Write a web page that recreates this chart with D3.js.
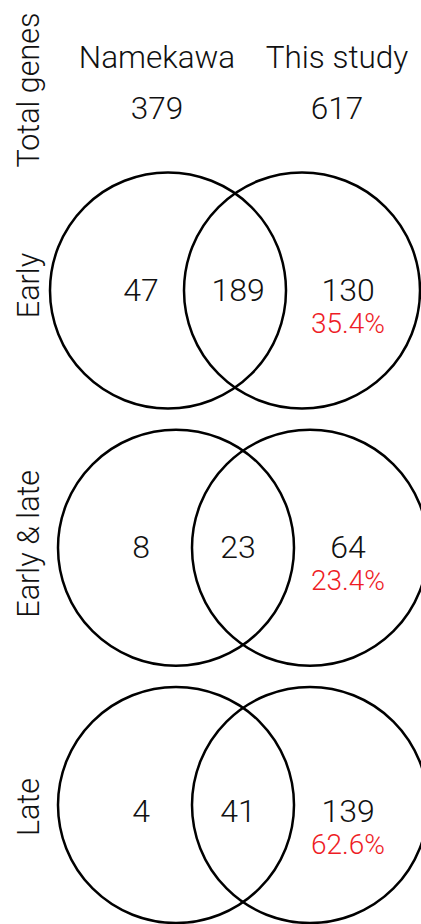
<!DOCTYPE html>
<html>
<head>
<meta charset="utf-8">
<script src="https://cdn.jsdelivr.net/npm/d3@7"></script>
<style>
  html, body { margin: 0; padding: 0; background: #fff; }
  svg { display: block; }
  text { font-family: Roboto, "Liberation Sans", sans-serif; font-weight: 300; fill: #111; }
</style>
</head>
<body>
<div id="chart"></div>
<script>
// Data
const datasets = ['Namekawa', 'This study'];
const totals = [379, 617];
const categories = ['Early', 'Early & late', 'Late'];
const onlyNamekawa = [47, 8, 4];
const shared = [189, 23, 41];
const onlyThisStudy = [130, 64, 139];
const newPercent = ['35.4%', '23.4%', '62.6%'];

const width = 421, height = 924;
const r = 118;

const svg = d3.select('#chart').append('svg')
	.attr('width', width)
	.attr('height', height);

// Row positions (circle centres) and set positions (left / right circle)
const yScale = d3.scalePoint()
	.domain(categories)
	.range([290.5, 805]);

const xSet = d3.scalePoint()
	.domain([0, 1])
	.range([173, 307]);

// first row sits a bit further left
const rowShift = [-5, 3, 3];
const labelDy = [10, 10, 17];

// label columns
const xLabel = d3.scaleOrdinal()
	.domain(['left', 'mid', 'right'])
	.range([141, 238, 348]);

// Header
const xHead = d3.scaleOrdinal().domain(datasets).range([157, 337]);

svg.selectAll('text.head')
	.data(datasets)
	.enter().append('text')
	.attr('class', 'head')
	.attr('x', d => xHead(d))
	.attr('y', 68)
	.attr('text-anchor', 'middle')
	.style('font-size', '31.5px')
	.text(d => d);

svg.selectAll('text.total')
	.data(totals)
	.enter().append('text')
	.attr('class', 'total')
	.attr('x', (d, i) => xHead(datasets[i]))
	.attr('y', 119)
	.attr('text-anchor', 'middle')
	.style('font-size', '31.5px')
	.text(d => d);

// Row labels (rotated)
const rowLabels = [{name: 'Total genes', y: 90}].concat(
	categories.map((c, i) => ({name: c, y: yScale(c) + [-5, -4, 2][i]})));

svg.selectAll('text.rowlab')
	.data(rowLabels)
	.enter().append('text')
	.attr('class', 'rowlab')
	.attr('transform', d => `translate(39, ${d.y}) rotate(-90)`)
	.attr('text-anchor', 'middle')
	.style('font-size', '30.5px')
	.text(d => d.name);

// Venn rows
const rows = svg.selectAll('g.row')
	.data(categories)
	.enter().append('g')
	.attr('class', 'row')
	.attr('transform', (d, i) => `translate(${rowShift[i]}, ${yScale(d)})`);

rows.selectAll('circle')
	.data([0, 1])
	.enter().append('circle')
	.attr('cx', d => xSet(d))
	.attr('cy', 0)
	.attr('r', r)
	.attr('fill', 'none')
	.attr('stroke', '#000')
	.attr('stroke-width', 2.5);

categories.forEach((c, i) => {
	const y = yScale(c) + labelDy[i];
	const vals = [['left', onlyNamekawa[i]], ['mid', shared[i]], ['right', onlyThisStudy[i]]];
	svg.selectAll(null)
		.data(vals)
		.enter().append('text')
		.attr('x', d => xLabel(d[0]))
		.attr('y', y)
		.attr('text-anchor', 'middle')
		.style('font-size', '32px')
		.text(d => d[1]);
	svg.append('text')
		.attr('x', xLabel('right'))
		.attr('y', y + 32)
		.attr('text-anchor', 'middle')
		.style('font-size', '28px')
		.style('fill', '#ee1c25')
		.text(newPercent[i]);
});
</script>
</body>
</html>
